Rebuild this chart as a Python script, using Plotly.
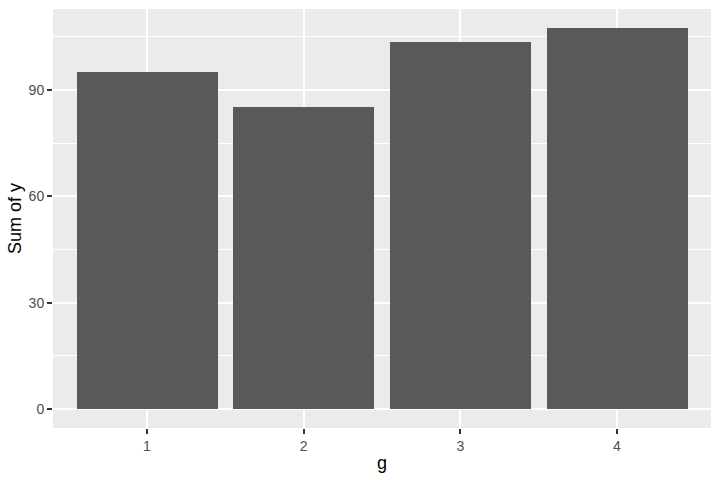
import plotly.graph_objects as go

g = ["1", "2", "3", "4"]
sum_y = [95.1, 85.2, 103.6, 107.5]

y_ticks = [0, 30, 60, 90]
y_minor = [15, 45, 75, 105]

fig = go.Figure()
fig.add_trace(go.Bar(x=g, y=sum_y, marker=dict(color="#595959", line=dict(width=0)), width=0.9))

fig.update_layout(
	width=720, height=480,
	margin=dict(l=53, r=9, t=9, b=52, autoexpand=False),
	paper_bgcolor="white",
	plot_bgcolor="#EBEBEB",
	font=dict(family="Liberation Sans", size=14, color="#4D4D4D"),
	showlegend=False,
	bargap=0,
)
fig.update_xaxes(
	type="category", range=[-0.6, 3.6],
	showgrid=True, gridcolor="white", gridwidth=2.2,
	ticks="outside", ticklen=5, tickwidth=2, tickcolor="#333333",
	tickfont=dict(size=14, color="#4D4D4D"),
	title=dict(text="g", font=dict(size=18, color="black"), standoff=3),
	zeroline=False, showline=False,
)
fig.update_yaxes(
	range=[-5.375, 112.9],
	tickvals=y_ticks,
	showgrid=True, gridcolor="white", gridwidth=2.2,
	minor=dict(tickvals=y_minor, showgrid=True, gridcolor="white", gridwidth=1.1, ticks=""),
	ticks="outside", ticklen=5, tickwidth=2, tickcolor="#333333",
	tickfont=dict(size=14, color="#4D4D4D"),
	title=dict(text="Sum of y", font=dict(size=18, color="black"), standoff=2),
	zeroline=False, showline=False,
)

fig.write_html("out.html", config={"displayModeBar": False},
	post_script="document.body.style.margin='0';")
